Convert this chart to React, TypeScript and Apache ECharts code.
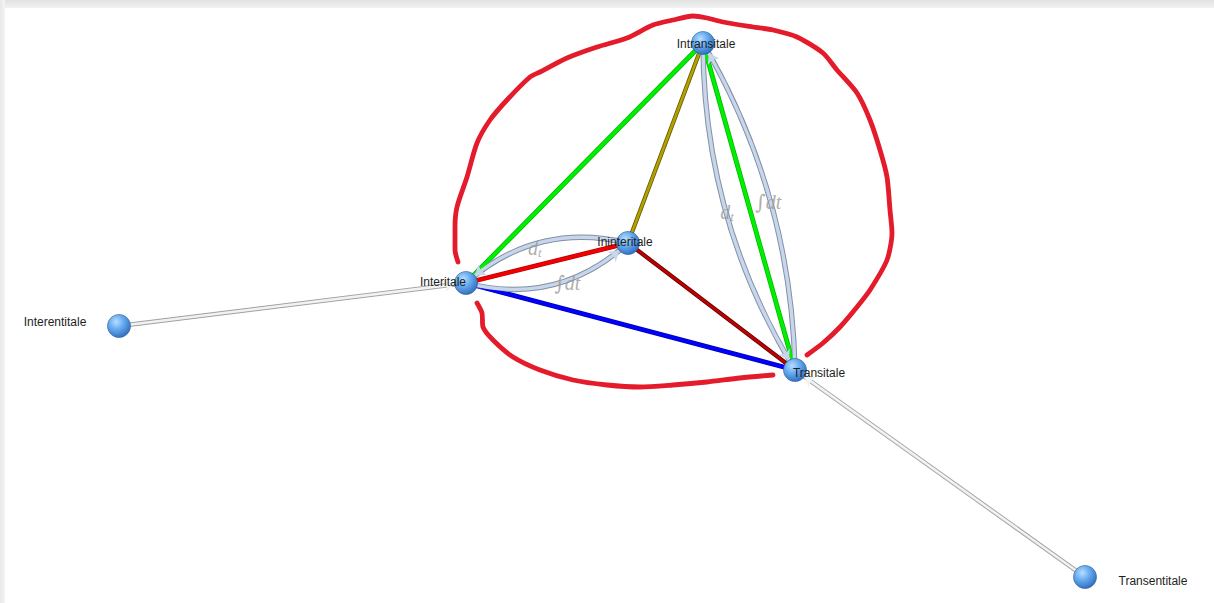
import React, { useEffect, useRef } from 'react';
import * as echarts from 'echarts';

// ---- data ----
const nodeNames = ['Intransitale', 'Ininteritale', 'Interitale', 'Transitale', 'Interentitale', 'Transentitale'];
const nodeX = [703, 628, 466, 795, 119, 1085];
const nodeY = [43, 243, 283, 370, 326, 577];

const edgeFrom = ['Interitale', 'Ininteritale', 'Interitale', 'Ininteritale', 'Interitale', 'Intransitale', 'Ininteritale', 'Interitale', 'Intransitale', 'Transitale', 'Interentitale', 'Transentitale'];
const edgeTo = ['Intransitale', 'Intransitale', 'Ininteritale', 'Transitale', 'Transitale', 'Transitale', 'Interitale', 'Ininteritale', 'Transitale', 'Intransitale', 'Interitale', 'Transitale'];
const edgeKind = ['green', 'olive', 'red', 'darkred', 'blue', 'green', 'steel', 'steel', 'steel', 'steel', 'gray', 'gray'];
const edgeBend = [0, 0, 0, 0, 0, 0, -0.26, -0.27, -0.14, -0.13, 0, 0];
const edgeTag = ['', '', '', '', '', '', 'dt', 'int', 'dt', 'int', '', ''];

// hand-drawn red outline (two strokes)
const loopUpper: number[][] = [
  [458, 262], [455, 250], [455, 227], [457, 207], [467, 177], [477, 143], [490, 120], [507, 100], [530, 77],
  [540, 72], [567, 58], [597, 47], [627, 38], [653, 25], [673, 20], [693, 16], [707, 18], [723, 22], [753, 27],
  [773, 30], [797, 37], [823, 53], [837, 70], [857, 93], [870, 120], [880, 150], [887, 177], [890, 210],
  [892, 233], [887, 260], [870, 290], [857, 307], [840, 327], [823, 343], [807, 355],
];
const loopLower: number[][] = [
  [773, 375], [740, 378], [707, 382], [673, 385], [640, 387], [607, 385], [573, 380], [540, 370], [513, 357],
  [493, 340], [483, 327], [482, 313], [477, 303],
];

// ---- styles ----
const kindStyle: Record<string, { outline: string; fill: string; wo: number; wf: number }> = {
  green: { outline: '#00b400', fill: '#00ee00', wo: 4.8, wf: 3.4 },
  olive: { outline: '#625a00', fill: '#b3a100', wo: 4.2, wf: 2.6 },
  red: { outline: '#b00000', fill: '#f00000', wo: 4.8, wf: 3.4 },
  darkred: { outline: '#5a0000', fill: '#c00000', wo: 4.2, wf: 2.6 },
  blue: { outline: '#0000a8', fill: '#0000ff', wo: 4.8, wf: 3.4 },
  steel: { outline: '#8190a8', fill: '#c8d6ea', wo: 5.4, wf: 3.4 },
  gray: { outline: '#a0a0a0', fill: '#f2f2f2', wo: 4.4, wf: 2.6 },
};
const labelOffset: Record<string, number[]> = {
  Intransitale: [3, 1],
  Ininteritale: [-3, -1],
  Interitale: [-23, -1],
  Transitale: [24, 3],
  Interentitale: [-64, -4],
  Transentitale: [68, 4],
};
const tagNudge: number[][] = [[-7, 6], [15, -2], [1, -1], [-2, 1]];

export default function App() {
  const ref = useRef<HTMLDivElement>(null);
  useEffect(() => {
    const chart = echarts.init(ref.current!, null, { renderer: 'svg' });

    const sphere = new echarts.graphic.RadialGradient(0.38, 0.32, 0.72, [
      { offset: 0, color: '#b8deff' },
      { offset: 0.45, color: '#66abf0' },
      { offset: 1, color: '#2f6bbb' },
    ]);

    const nodes = nodeNames.map((n, i) => ({
      name: n,
      value: [nodeX[i], nodeY[i]],
      label: { offset: labelOffset[n] },
    }));
    const ghostNodes = nodeNames.map((n, i) => ({ name: n, value: [nodeX[i], nodeY[i]] }));

    const outlineLinks = edgeFrom.map((s, i) => ({
      source: s,
      target: edgeTo[i],
      lineStyle: {
        color: kindStyle[edgeKind[i]].outline,
        width: kindStyle[edgeKind[i]].wo,
        curveness: edgeBend[i],
        opacity: 1,
      },
    }));

    const fillLinks = edgeFrom.map((s, i) => {
      const arrow = edgeKind[i] === 'steel' || edgeKind[i] === 'gray';
      const link: any = {
        source: s,
        target: edgeTo[i],
        lineStyle: {
          color: kindStyle[edgeKind[i]].fill,
          width: kindStyle[edgeKind[i]].wf,
          curveness: edgeBend[i],
          opacity: 1,
        },
      };
      if (!arrow) link.symbol = ['none', 'none'];
      return link;
    });

    // edge tag labels at curve midpoints
    const idx = (n: string) => nodeNames.indexOf(n);
    const tagPoints: any[] = [];
    let k = 0;
    edgeFrom.forEach((s, i) => {
      if (!edgeTag[i]) return;
      const a = idx(s);
      const b = idx(edgeTo[i]);
      const p1 = [nodeX[a], nodeY[a]];
      const p2 = [nodeX[b], nodeY[b]];
      const c = edgeBend[i];
      const cp = [
        (p1[0] + p2[0]) / 2 - (p1[1] - p2[1]) * c,
        (p1[1] + p2[1]) / 2 - (p2[0] - p1[0]) * c,
      ];
      const mx = 0.25 * p1[0] + 0.5 * cp[0] + 0.25 * p2[0];
      const my = 0.25 * p1[1] + 0.5 * cp[1] + 0.25 * p2[1];
      const nudge = tagNudge[k++] || [0, 0];
      tagPoints.push({ value: [mx + nudge[0], my + nudge[1]], tag: edgeTag[i] });
    });

    const tagRich = {
      d: { fontSize: 20, fontStyle: 'italic', color: '#999999', fontFamily: 'Liberation Serif, serif' },
      s: { fontSize: 13, fontStyle: 'italic', color: '#999999', fontFamily: 'Liberation Serif, serif', padding: [10, 0, 0, 0] },
      i: { fontSize: 20, fontStyle: 'italic', color: '#999999', fontFamily: 'DejaVu Serif, serif' },
    };

    chart.setOption({
      animation: false,
      grid: { left: 0, right: 0, top: 0, bottom: 0 },
      xAxis: { type: 'value', min: 0, max: 1214, show: false },
      yAxis: { type: 'value', min: 0, max: 603, inverse: true, show: false },
      series: [
        {
          type: 'graph',
          coordinateSystem: 'cartesian2d',
          z: 2,
          symbolSize: 23,
          itemStyle: { opacity: 0 },
          label: { show: false },
          data: ghostNodes,
          links: outlineLinks,
          silent: true,
        },
        {
          type: 'graph',
          coordinateSystem: 'cartesian2d',
          z: 3,
          symbol: 'circle',
          symbolSize: 23,
          edgeSymbol: ['none', 'arrow'],
          edgeSymbolSize: [0, 10],
          itemStyle: { color: sphere, borderColor: '#2a5a9a', borderWidth: 0.6 },
          label: {
            show: true,
            position: 'inside',
            color: '#1e1e1e',
            fontSize: 12,
            fontFamily: 'Liberation Sans, Arial, sans-serif',
          },
          data: nodes,
          links: fillLinks,
          silent: true,
        },
        {
          type: 'scatter',
          z: 4,
          symbolSize: 0,
          data: tagPoints,
          label: {
            show: true,
            position: 'inside',
            formatter: (p: any) => (p.data.tag === 'dt' ? '{d|d}{s|t}' : '{i|∫}{d|dt}'),
            rich: tagRich,
          },
          silent: true,
        },
        {
          type: 'line',
          z: 5,
          data: loopUpper,
          symbol: 'none',
          smooth: 0.25,
          lineStyle: { color: '#e41b2b', width: 4.8, cap: 'round', join: 'round' },
          silent: true,
        },
        {
          type: 'line',
          z: 5,
          data: loopLower,
          symbol: 'none',
          smooth: 0.25,
          lineStyle: { color: '#e41b2b', width: 4.8, cap: 'round', join: 'round' },
          silent: true,
        },
      ],
    });
    return () => chart.dispose();
  }, []);

  return (
    <div style={{ position: 'absolute', left: 0, top: 0, width: 1214, height: 603, background: '#fff', overflow: 'hidden' }}>
      <div style={{ position: 'absolute', left: 0, top: 0, width: 1214, height: 8, background: 'linear-gradient(#e2e2e2, #f2f2f2)' }} />
      <div style={{ position: 'absolute', left: 0, top: 0, width: 5, height: 603, background: 'linear-gradient(to right, #e8e8e8, #f5f5f5)' }} />
      <div ref={ref} style={{ position: 'absolute', left: 0, top: 0, width: 1214, height: 603 }} />
    </div>
  );
}
